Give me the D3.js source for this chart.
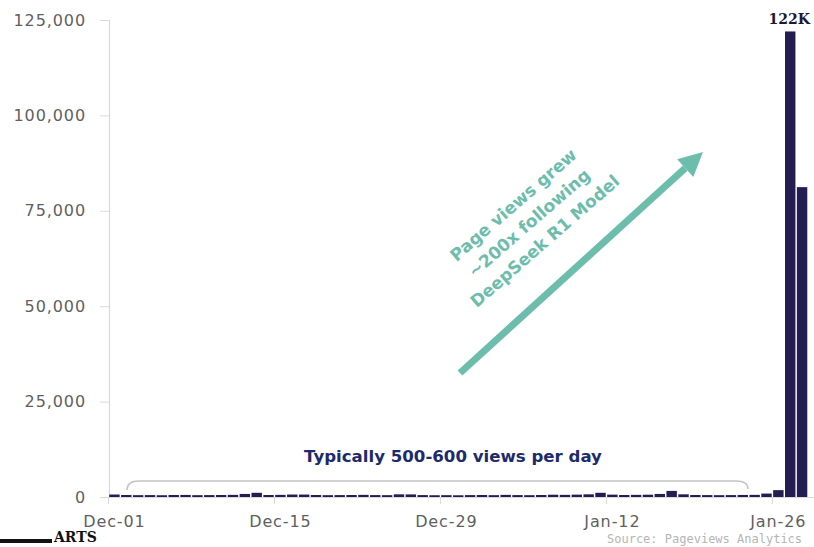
<!DOCTYPE html>
<html>
<head>
<meta charset="utf-8">
<script src="https://cdn.jsdelivr.net/npm/d3@7"></script>
<style>
html,body{margin:0;padding:0;background:#fff;overflow:hidden;}
svg{display:block;}
</style>
</head>
<body>
<svg id="chart" width="814" height="547"></svg>
<script>
// ---- data ----
const startDate = "2024-12-01";
// Dec-01 .. Dec-31
const decViews = [
  650, 520, 480, 500, 460, 520, 540, 480, 500, 520, 560, 800, 1100, 520,
  560, 650, 640, 520, 480, 500, 520, 560, 500, 480, 700, 680, 500, 460,
  480, 450, 500
];
// Jan-01 .. Jan-28
const janViews = [
  520, 480, 560, 500, 480, 520, 600, 560, 620, 700, 1100, 620, 520, 560,
  600, 800, 1600, 700, 520, 500, 480, 500, 540, 560, 900, 1800, 122000, 81200
];
const views = decViews.concat(janViews);
const yTicks = [0, 25000, 50000, 75000, 100000, 125000];
const xTickLabels = ["Dec-01", "Dec-15", "Dec-29", "Jan-12", "Jan-26"];
const peakLabel = "122K";
const bandNote = "Typically 500-600 views per day";
const arrowNote = ["Page views grew", "~200x following", "DeepSeek R1 Model"];
const sourceText = "Source: Pageviews Analytics";
const logoText = "ARTS";

// ---- build ----
const parse = d3.timeParse("%Y-%m-%d");
const fmtDay = d3.timeFormat("%b-%d");
const d0 = parse(startDate);
const data = views.map((v, i) => ({ date: d3.timeDay.offset(d0, i), value: v }));
data.forEach(d => d.label = fmtDay(d.date));

const svg = d3.select("#chart");
const x = d3.scaleBand().domain(data.map(d => d.label)).range([108.5, 808]).paddingInner(0.12).paddingOuter(0.06);
const y = d3.scaleLinear().domain([0, 125000]).range([497, 20]);

const navy = "#241d52";
const gridGray = "#d9d9d9";
const labelGray = "#5f5f5f";

// y axis
const yAxis = svg.append("g").attr("transform", "translate(109,0)")
  .call(d3.axisLeft(y).tickValues(yTicks).tickFormat(d3.format(",")).tickSize(9).tickPadding(14));
yAxis.select(".domain").attr("stroke", gridGray).attr("stroke-width", 1.2);
yAxis.selectAll(".tick line").attr("stroke", gridGray);
yAxis.selectAll("text").attr("fill", labelGray).attr("font-family", "DejaVu Sans")
  .attr("font-size", 16).attr("letter-spacing", 0.9);

// x axis (ticks at category boundaries every 14 days)
const step = x.step();
const tickIdx = xTickLabels.map(l => data.findIndex(d => d.label === l));
const xg = svg.append("g");
xg.append("line").attr("x1", 109).attr("x2", 814).attr("y1", 497.5).attr("y2", 497.5)
  .attr("stroke", gridGray).attr("stroke-width", 1.2);
tickIdx.forEach((i, k) => {
  const tx = x(data[i].label) - (step - x.bandwidth()) / 2;
  xg.append("line").attr("x1", tx).attr("x2", tx).attr("y1", 497).attr("y2", 504)
    .attr("stroke", gridGray);
  xg.append("text").attr("x", x(data[i].label) + x.bandwidth() / 2).attr("y", 527)
    .attr("text-anchor", "middle").attr("fill", labelGray).attr("font-family", "DejaVu Sans")
    .attr("font-size", 16).attr("letter-spacing", 0.9).text(xTickLabels[k]);
});

// bars
svg.append("g").selectAll("rect").data(data).join("rect")
  .attr("x", d => x(d.label)).attr("width", x.bandwidth())
  .attr("y", d => y(d.value)).attr("height", d => y(0) - y(d.value))
  .attr("fill", navy);

// peak label
const peak = data.reduce((a, b) => (b.value > a.value ? b : a));
svg.append("text").attr("x", x(peak.label) + x.bandwidth() / 2 - 1).attr("y", 24)
  .attr("text-anchor", "middle").attr("font-family", "DejaVu Serif").attr("font-weight", "bold")
  .attr("font-size", 14).attr("fill", "#1c1838").text(peakLabel);

// brace
const bx1 = 127, bx2 = 748, by = 481;
svg.append("path")
  .attr("d", `M${bx1},490 Q${bx1},${by} ${bx1 + 12},${by} L${bx2 - 12},${by} Q${bx2},${by} ${bx2},489`)
  .attr("fill", "none").attr("stroke", "#c4c4c4").attr("stroke-width", 1.5);

// band note
svg.append("text").attr("x", 453).attr("y", 462).attr("text-anchor", "middle")
  .attr("font-family", "DejaVu Sans").attr("font-weight", "bold").attr("font-size", 16.6)
  .attr("fill", "#1d2a6b").text(bandNote);

// arrow
const teal = "#6dbdac";
const ax1 = 460, ay1 = 373, ax2 = 703, ay2 = 152;
const ang = Math.atan2(ay2 - ay1, ax2 - ax1);
const headLen = 24, headW = 12;
const bxh = ax2 - headLen * Math.cos(ang), byh = ay2 - headLen * Math.sin(ang);
svg.append("line").attr("x1", ax1).attr("y1", ay1).attr("x2", bxh).attr("y2", byh)
  .attr("stroke", teal).attr("stroke-width", 7);
svg.append("path")
  .attr("d", `M${ax2},${ay2} L${bxh + headW * Math.sin(ang)},${byh - headW * Math.cos(ang)} L${bxh - headW * Math.sin(ang)},${byh + headW * Math.cos(ang)} Z`)
  .attr("fill", teal);

// rotated arrow note
const note = svg.append("text").attr("transform", "translate(529,223) rotate(-41)")
  .attr("text-anchor", "middle").attr("font-family", "DejaVu Sans").attr("font-weight", "bold")
  .attr("font-size", 17).attr("fill", teal);
arrowNote.forEach((t, i) => {
  note.append("tspan").attr("x", 0).attr("y", (i - 1) * 24 + 6).text(t);
});

// source
svg.append("text").attr("x", 607).attr("y", 543).attr("font-family", "DejaVu Sans Mono")
  .attr("font-size", 12).attr("fill", "#b5b5b5").text(sourceText);

// logo fragment
svg.append("rect").attr("x", 0).attr("y", 539).attr("width", 52).attr("height", 4).attr("fill", "#111");
svg.append("text").attr("x", 54).attr("y", 542).attr("font-family", "DejaVu Serif")
  .attr("font-weight", "bold").attr("font-size", 14).attr("fill", "#111").text(logoText);
</script>
</body>
</html>
